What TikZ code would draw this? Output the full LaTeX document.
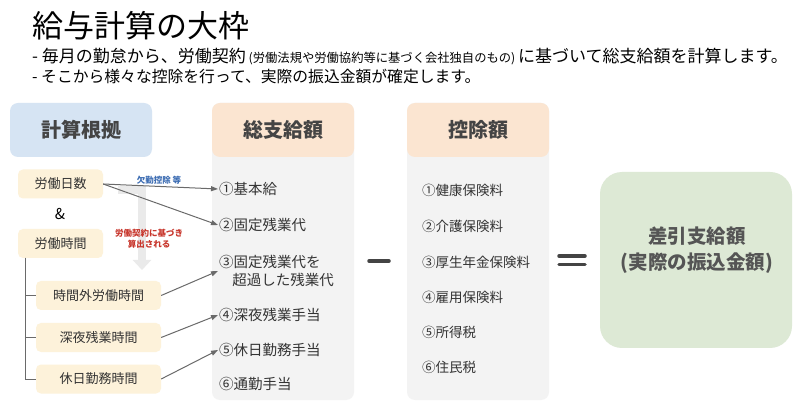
\documentclass[tikz,border=0pt]{standalone}
\usepackage{fontspec}
\setmainfont{Noto Sans CJK JP}
\usetikzlibrary{arrows.meta}
\definecolor{hblue}{HTML}{D6E4F3}
\definecolor{hpeach}{HTML}{FBE5D1}
\definecolor{bodygrey}{HTML}{F3F3F3}
\definecolor{ylw}{HTML}{FDF2DA}
\definecolor{grn}{HTML}{DDE9D5}
\definecolor{txt}{HTML}{333333}
\definecolor{htxt}{HTML}{444444}
\definecolor{gtxt}{HTML}{555555}
\definecolor{arr}{HTML}{6A6A6A}
\definecolor{lgarr}{HTML}{EAEAEA}
\definecolor{bluelab}{HTML}{3D6DB3}
\definecolor{redlab}{HTML}{C8372D}
\tikzset{
  header/.style={fill=#1, rounded corners=8pt, minimum width=142pt, minimum height=54pt, inner sep=0pt, text=htxt, font=\fontsize{20}{24}\selectfont\bfseries},
  bodybox/.style={fill=bodygrey, rounded corners=8pt, minimum width=142pt, minimum height=297pt, inner sep=0pt},
  ybox/.style={fill=ylw, rounded corners=5pt, minimum height=29pt, inner sep=0pt, text=txt, font=\fontsize{13}{15}\selectfont},
  item/.style={anchor=west, inner sep=1pt, text=txt, font=\fontsize{14.5}{18}\selectfont, align=left},
  ditem/.style={anchor=west, inner sep=1pt, text=txt, font=\fontsize{13.5}{16}\selectfont},
  conn/.style={draw=arr, line width=1pt, -{Triangle[length=7pt,width=5pt]}},
  tree/.style={draw=arr, line width=1pt},
  opbar/.style={draw=htxt, line width=3.5pt, line cap=round},
}
\begin{document}
\begin{tikzpicture}[x=1pt,y=-1pt]
\useasboundingbox[fill=white] (0,0) rectangle (800,411);

% title
\node[anchor=west, inner sep=0pt, text=black, font=\fontsize{31}{33}\selectfont] (title) at (32,26) {給与計算の大枠};
\node[anchor=west, inner sep=0pt, text=black, font=\fontsize{17}{19}\selectfont] (sub1) at (32,57) {- 毎月の勤怠から、労働契約\,{\fontsize{12.3}{14}\selectfont (労働法規や労働協約等に基づく会社独自のもの)}\,に基づいて総支給額を計算します。};
\node[anchor=west, inner sep=0pt, text=black, font=\fontsize{15.8}{18}\selectfont] (sub2) at (32,76) {- そこから様々な控除を行って、実際の振込金額が確定します。};

% headers and bodies
\node[header=hblue] (hbase) at (81,130) {計算根拠};
\node[bodybox] (gbody) at (283,251.5) {};
\node[header=hpeach] (hgross) at (283,130) {総支給額};
\node[bodybox] (dbody) at (478,251.5) {};
\node[header=hpeach] (hded) at (478,130) {控除額};

% result
\node[fill=grn, rounded corners=22pt, minimum width=192pt, minimum height=176pt, inner sep=0pt] (res) at (696,260) {};
\node[inner sep=0pt, text=gtxt, font=\fontsize{19.5}{26}\selectfont\bfseries, align=center] (restext) at (697,250) {差引支給額\\(実際の振込金額)};

% operators
\coordinate (m1) at (369,261);
\coordinate (m2) at (389,261);
\draw[opbar] (m1) -- (m2);
\coordinate (e1) at (559,256);
\coordinate (e2) at (585,256);
\coordinate (e3) at (559,264.5);
\coordinate (e4) at (585,264.5);
\draw[opbar] (e1) -- (e2);
\draw[opbar] (e3) -- (e4);

% gross items
\node[item] (g1) at (218,189) {①基本給};
\node[item] (g2) at (218,225) {②固定残業代};
\node[item] (g3) at (218,271) {③固定残業代を\\\hspace{0.9em}超過した残業代};
\node[item] (g4) at (218,315) {④深夜残業手当};
\node[item] (g5) at (218,350) {⑤休日勤務手当};
\node[item] (g6) at (218,384) {⑥通勤手当};

% deduction items
\node[ditem] (d1) at (421,190) {①健康保険料};
\node[ditem] (d2) at (421,226) {②介護保険料};
\node[ditem] (d3) at (421,262) {③厚生年金保険料};
\node[ditem] (d4) at (421,297) {④雇用保険料};
\node[ditem] (d5) at (421,332) {⑤所得税};
\node[ditem] (d6) at (421,367) {⑥住民税};

% light grey arrow
\coordinate (ga) at (118,190);
\coordinate (gb) at (142,270);
\draw[lgarr, line width=8pt, -{Triangle[length=10pt,width=18pt]}] (ga) -| (gb);

% left nodes
\node[ybox, minimum width=85pt] (days) at (60.5,184) {労働日数};
\node[inner sep=0pt, text=black, font=\fontsize{15}{18}\selectfont] (amp) at (60,214) {\&};
\node[ybox, minimum width=85pt] (hours) at (60.5,243.5) {労働時間};
\node[ybox, minimum width=125pt] (ot) at (98.5,295.5) {時間外労働時間};
\node[ybox, minimum width=125pt] (night) at (98.5,337.5) {深夜残業時間};
\node[ybox, minimum width=125pt] (hol) at (98.5,379) {休日勤務時間};

% labels
\node[inner sep=0pt, text=bluelab, font=\fontsize{8.5}{10}\selectfont\bfseries] (lab1) at (159,180) {欠勤控除 等};
\node[inner sep=0pt, text=redlab, font=\fontsize{8.5}{11}\selectfont\bfseries, align=center] (lab2) at (149,239) {労働契約に基づき\\算出される};

% tree
\coordinate (tv) at (25,258);
\draw[tree] (tv) |- (ot.west);
\draw[tree] (tv) |- (night.west);
\draw[tree] (tv) |- (hol.west);

% connectors
\draw[conn] (days.east) -- (g1.west);
\draw[conn] (days.east) -- (g2.west);
\draw[conn] (ot.east) -- (g3.west);
\draw[conn] (night.east) -- (g4.west);
\draw[conn] (hol.east) -- (g5.west);
\end{tikzpicture}
\end{document}
